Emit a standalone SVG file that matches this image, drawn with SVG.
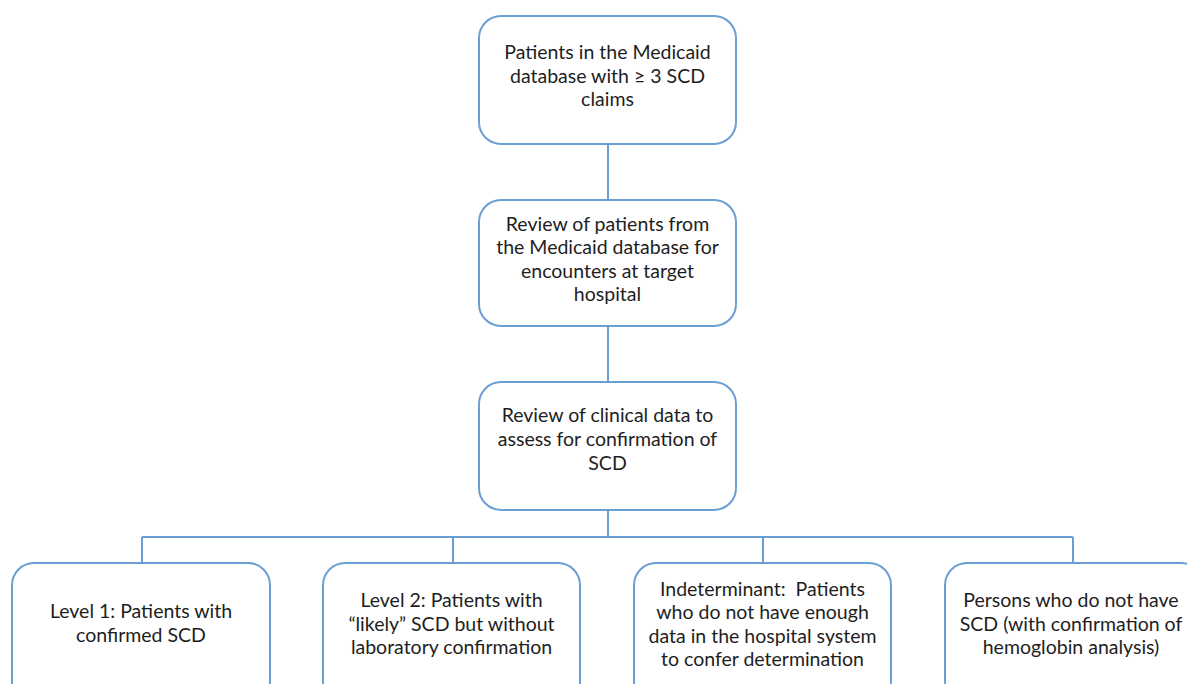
<svg xmlns="http://www.w3.org/2000/svg" width="1187" height="684" viewBox="0 0 1187 684">
<style>
.box{fill:#fff;stroke:#6b9fd4;stroke-width:2}
.ln{stroke:#6b9fd4;stroke-width:2;fill:none}
text{font-family:Lato,"Liberation Sans",sans-serif;font-size:19.5px;fill:#1e1e1e;text-anchor:middle}
</style>
<rect width="1187" height="684" fill="#fff"/>
<g id="connectors">
<path class="ln" d="M608 144V200M608 326V382M608 510V537M142 537H1073M142 537V563M453 537V563M763 537V563M1073 537V563"/>
</g>
<g id="n1"><rect class="box" x="479" y="16" width="257" height="128" rx="22"/>
<text><tspan x="607.5" y="59">Patients in the Medicaid</tspan><tspan x="607.5" y="83">database with ≥ 3 SCD</tspan><tspan x="607.5" y="106">claims</tspan></text></g>
<g id="n2"><rect class="box" x="479" y="200" width="257" height="126" rx="22"/>
<text><tspan x="607.5" y="231">Review of patients from</tspan><tspan x="607.5" y="254">the Medicaid database for</tspan><tspan x="607.5" y="278">encounters at target</tspan><tspan x="607.5" y="301">hospital</tspan></text></g>
<g id="n3"><rect class="box" x="479" y="382" width="257" height="128" rx="22"/>
<text><tspan x="607.5" y="422">Review of clinical data to</tspan><tspan x="607.5" y="446">assess for confirmation of</tspan><tspan x="607.5" y="470">SCD</tspan></text></g>
<g id="n4"><rect class="box" x="12" y="563" width="258" height="140" rx="22"/>
<text><tspan x="141" y="618">Level 1: Patients with</tspan><tspan x="141" y="642">confirmed SCD</tspan></text></g>
<g id="n5"><rect class="box" x="323" y="563" width="257" height="140" rx="22"/>
<text><tspan x="451.5" y="607">Level 2: Patients with</tspan><tspan x="451.5" y="631">“likely” SCD but without</tspan><tspan x="451.5" y="654">laboratory confirmation</tspan></text></g>
<g id="n6"><rect class="box" x="634" y="563" width="257" height="140" rx="22"/>
<text><tspan x="762.5" y="596">Indeterminant:&#160; Patients</tspan><tspan x="762.5" y="619">who do not have enough</tspan><tspan x="762.5" y="643">data in the hospital system</tspan><tspan x="762.5" y="666">to confer determination</tspan></text></g>
<g id="n7"><rect class="box" x="945" y="563" width="258" height="140" rx="22"/>
<text><tspan x="1071" y="607">Persons who do not have</tspan><tspan x="1071" y="631">SCD (with confirmation of</tspan><tspan x="1071" y="654">hemoglobin analysis)</tspan></text></g>
</svg>
